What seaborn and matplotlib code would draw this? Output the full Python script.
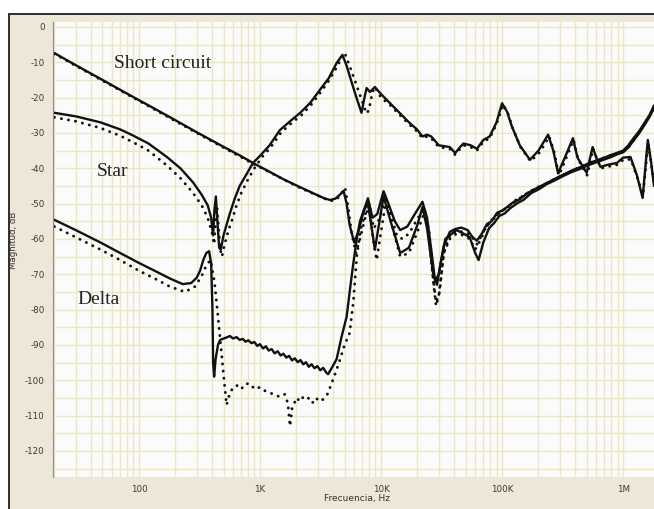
import numpy as np
import pandas as pd
import matplotlib
matplotlib.use("Agg")
import matplotlib.pyplot as plt
import seaborn as sns
from matplotlib.patches import Rectangle
from matplotlib.ticker import FixedLocator, LogLocator, MultipleLocator, NullFormatter

# ---------------------------------------------------------------- data
# Short circuit, solid trace
sc_f = [20, 30, 50, 80, 120, 200, 300, 468, 700, 875, 1200, 1600, 2100, 2800, 3400,
        3800, 4200, 4600, 4900, 5200, 5500, 6000, 6500, 7200, 7800, 8500, 9300, 10500,
        11500, 13000, 14400, 16500, 19000, 22000, 24000, 26000, 28000, 30000, 33000,
        37000, 41000, 46000, 52000, 57000, 62000, 68000, 75000, 82000, 91000, 100000,
        112000, 125000, 140000, 160000, 185000, 210000, 240000, 280000, 330000, 390000,
        450000, 520000, 600000, 700000, 800000, 900000, 1000000, 1100000, 1200000,
        1350000, 1500000, 1650000, 1800000]
sc_db = [-7.4, -10.8, -15.0, -18.9, -22.2, -26.4, -29.8, -33.4, -36.6, -38.5, -41.0,
         -43.3, -45.2, -47.2, -48.5, -49.0, -48.6, -47.4, -46.4, -50.0, -56.0, -61.0,
         -58.0, -52.0, -48.5, -54.0, -53.0, -46.5, -50.0, -55.0, -57.5, -56.5, -53.0,
         -49.5, -54.0, -63.0, -72.0, -70.0, -62.0, -58.0, -57.2, -56.8, -57.5, -59.5,
         -60.5, -58.5, -55.8, -55.0, -52.6, -52.0, -50.8, -49.5, -48.8, -47.2, -46.0,
         -45.0, -44.0, -42.8, -41.6, -40.4, -39.6, -38.6, -37.8, -37.0, -36.2, -35.6,
         -35.0, -33.6, -31.8, -29.6, -27.2, -25.0, -22.2]

# Short circuit, dotted trace
sc2_f = [20, 50, 120, 300, 875, 2100, 3800, 4300, 4700, 5050, 5350, 5700, 6200, 6700,
         7400, 8000, 8700, 9500, 10800, 12000, 13500, 15000, 17000, 19500, 22500,
         24500, 26500, 28500, 30500, 33000, 37000, 42000, 48000, 55000, 62000, 70000,
         80000, 91000, 105000, 120000, 140000, 165000, 195000, 234000, 280000, 340000,
         400000, 480000, 560000, 650000, 760000, 880000, 1000000, 1120000, 1250000,
         1400000, 1550000, 1700000, 1800000]
sc2_db = [-7.6, -15.2, -22.4, -30.0, -38.7, -45.4, -49.3, -48.8, -47.3, -45.5, -51.0,
          -58.0, -64.0, -60.0, -54.0, -50.0, -57.0, -55.0, -49.0, -53.0, -59.0, -60.0,
          -58.5, -55.0, -51.5, -57.0, -69.0, -78.0, -75.0, -64.0, -59.0, -57.8, -58.0,
          -58.8, -61.5, -58.0, -55.0, -53.2, -51.5, -50.3, -48.5, -46.8, -45.4, -44.3,
          -43.0, -41.5, -40.3, -39.2, -38.2, -37.4, -36.5, -35.8, -35.3, -33.8, -31.6,
          -29.2, -26.8, -24.4, -22.8]

# Star, solid trace
st_f = [20, 30, 48, 70, 89, 120, 170, 220, 280, 330, 370, 395, 410, 420, 432, 445, 460,
        475, 500, 540, 565, 620, 680, 780, 875, 1000, 1200, 1460, 1800, 2150, 2600,
        3130, 3700, 4300, 4800, 5200, 5700, 6200, 6900, 7300, 7600, 8100, 8900, 10000,
        11800, 14400, 17000, 19800, 22000, 24000, 26000, 30000, 37000, 41000, 45000,
        48000, 55000, 62000, 70000, 79000, 90000, 100000, 110000, 120000, 140000,
        170000, 200000, 240000, 265000, 290000, 330000, 385000, 420000, 500000,
        560000, 600000, 650000, 750000, 890000, 1000000, 1150000, 1300000, 1450000,
        1600000, 1700000, 1800000]
st_db = [-24.3, -25.3, -27.0, -29.0, -30.7, -33.0, -36.8, -40.0, -44.0, -47.5, -50.5,
         -54.0, -59.0, -52.0, -48.0, -55.0, -62.5, -63.0, -59.0, -55.0, -52.7, -48.5,
         -45.0, -41.5, -38.5, -36.5, -33.5, -29.2, -26.5, -24.3, -21.5, -17.8, -14.5,
         -10.2, -7.9, -11.0, -15.5, -19.5, -24.3, -20.0, -17.3, -18.4, -17.0, -19.0,
         -21.5, -24.5, -27.0, -29.0, -31.0, -30.5, -31.0, -33.5, -34.0, -35.7, -34.0,
         -33.0, -33.5, -34.5, -32.0, -31.0, -27.0, -21.6, -24.0, -28.0, -33.5, -37.6,
         -35.0, -30.5, -35.0, -41.4, -37.0, -31.5, -37.0, -41.3, -34.0, -37.0, -39.6,
         -39.0, -38.5, -37.0, -36.8, -42.0, -48.4, -32.0, -38.0, -45.0]

# Star, dotted trace
st2_f = [20, 30, 48, 70, 89, 120, 170, 220, 280, 330, 370, 400, 418, 430, 442, 455,
         470, 485, 510, 550, 590, 640, 700, 800, 900, 1030, 1230, 1500, 1850, 2200,
         2650, 3200, 3780, 4400, 5000, 5500, 6200, 6900, 7400, 7700, 8100, 8500, 8900,
         10000, 11800, 14400, 17000, 19800, 22000, 24000, 26000, 30000, 37000, 41000,
         45000, 48000, 55000, 62000, 70000, 79000, 90000, 102000, 112000, 122000,
         142000, 172000, 205000, 245000, 270000, 295000, 335000, 390000, 425000,
         505000, 565000, 610000, 660000, 760000, 900000, 1010000, 1160000, 1320000,
         1460000, 1610000, 1710000, 1800000]
st2_db = [-25.6, -26.7, -28.6, -30.8, -32.6, -35.0, -39.2, -42.8, -47.0, -50.5, -54.0,
          -58.0, -61.5, -55.0, -51.0, -57.0, -63.0, -65.0, -61.5, -57.5, -54.5, -50.5,
          -47.0, -43.0, -40.0, -37.0, -34.0, -29.8, -27.0, -25.0, -22.0, -18.3, -14.8,
          -10.8, -7.3, -11.0, -16.0, -20.5, -23.5, -24.5, -22.0, -18.5, -17.0, -20.0,
          -22.0, -25.0, -27.5, -29.5, -31.5, -31.0, -31.5, -34.0, -34.5, -36.2, -34.5,
          -33.5, -34.0, -35.0, -32.5, -31.5, -27.5, -22.0, -24.5, -28.5, -34.0, -38.0,
          -35.5, -31.0, -35.5, -42.0, -37.5, -32.0, -37.5, -42.0, -34.5, -37.5, -40.0,
          -39.5, -39.0, -37.5, -37.5, -43.0, -47.5, -33.0, -39.0, -44.0]

# Delta, solid trace
dl_f = [20, 30, 48, 70, 100, 140, 180, 230, 270, 300, 320, 340, 360, 380, 395, 405,
        410, 418, 430, 450, 468, 520, 565, 600, 640, 680, 720, 760, 800, 850, 900, 950,
        1000, 1060, 1120, 1180, 1250, 1320, 1400, 1480, 1560, 1650, 1740, 1840, 1940,
        2050, 2160, 2280, 2400, 2530, 2670, 2820, 2980, 3150, 3330, 3520, 3650, 4000,
        4300, 4700, 5200, 5600, 5900, 6300, 6700, 7200, 7800, 8300, 8900, 9500, 10500,
        12000, 14400, 17000, 20000, 22000, 24000, 27000, 29000, 31000, 34000, 37000,
        42000, 48000, 54000, 60000, 64000, 70000, 78000, 86000, 95000, 105000, 118000,
        135000, 150000, 175000, 200000, 234000, 270000, 320000, 380000, 440000, 510000,
        590000, 690000, 800000, 900000, 1000000, 1100000, 1200000, 1350000, 1500000,
        1650000, 1800000]
dl_db = [-54.6, -57.5, -61.0, -64.0, -66.8, -69.3, -71.2, -72.8, -72.5, -71.0, -69.0,
         -66.0, -64.0, -63.5, -67.0, -80.0, -95.0, -99.0, -94.0, -90.0, -88.6, -88.0,
         -87.5, -88.2, -87.8, -88.6, -88.3, -89.1, -88.7, -89.5, -89.2, -90.3, -89.8,
         -91.0, -90.4, -91.6, -91.2, -92.4, -91.8, -93.0, -92.5, -93.6, -93.1, -94.4,
         -93.8, -94.9, -94.3, -95.5, -94.9, -96.2, -95.5, -96.6, -96.0, -97.2, -96.5,
         -97.8, -98.3, -96.0, -94.0, -88.0, -82.0, -73.0, -67.0, -60.0, -55.0, -52.0,
         -50.0, -56.0, -63.0, -57.0, -48.0, -55.0, -64.0, -62.5, -56.0, -51.0, -57.0,
         -70.0, -73.0, -67.0, -60.0, -59.0, -57.5, -58.5, -59.5, -64.0, -66.0, -61.0,
         -57.0, -55.5, -53.5, -52.8, -51.2, -49.8, -49.0, -47.0, -46.0, -44.5, -43.5,
         -42.2, -41.0, -40.2, -39.2, -38.4, -37.6, -36.8, -36.0, -35.5, -34.2, -32.5,
         -30.2, -27.8, -25.5, -23.0]

# Delta, dotted trace
dl2_f = [20, 30, 48, 70, 100, 140, 180, 240, 290, 330, 360, 390, 420, 450, 480, 505,
         530, 560, 600, 650, 700, 760, 830, 900, 1000, 1100, 1200, 1330, 1460, 1600,
         1700, 1770, 1840, 1900, 2000, 2150, 2300, 2500, 2700, 2900, 3100, 3300, 3600,
         3900, 4300, 4600, 5000, 5500, 5900, 6300, 6800, 7400, 8000, 8600, 9200, 10000,
         11000, 12500, 14400, 17000, 20000, 23000, 25000, 27000, 28500, 30000, 33000,
         37000, 42000, 48000, 54000, 60000, 66000, 74000, 82000, 92000, 102000, 115000,
         130000, 150000, 172000, 200000, 234000, 275000, 325000, 385000, 450000,
         520000, 600000, 700000, 800000, 900000, 1000000, 1100000, 1200000, 1350000,
         1500000, 1650000, 1800000]
dl2_db = [-56.5, -59.5, -63.0, -66.0, -69.0, -71.5, -73.5, -75.0, -73.5, -70.5, -67.5,
          -66.0, -72.0, -82.0, -92.0, -100.0, -107.0, -104.0, -102.0, -101.5, -102.5,
          -101.0, -101.0, -102.5, -102.0, -103.0, -103.5, -104.2, -104.7, -104.0,
          -106.5, -113.0, -108.0, -107.0, -105.0, -106.0, -104.5, -105.0, -106.5,
          -105.0, -106.0, -105.5, -104.0, -101.0, -97.0, -94.0, -90.0, -86.7, -78.0,
          -65.0, -57.0, -53.0, -51.0, -60.0, -66.0, -58.0, -49.0, -57.0, -65.0, -64.0,
          -58.0, -52.0, -58.0, -72.0, -79.0, -76.0, -64.0, -60.0, -58.5, -59.0, -60.0,
          -63.0, -60.5, -56.5, -55.0, -53.0, -52.0, -50.5, -49.0, -47.8, -46.5, -45.5,
          -44.2, -43.0, -41.8, -40.8, -39.8, -38.8, -38.0, -37.2, -36.4, -35.8, -35.2,
          -33.8, -32.0, -29.8, -27.4, -25.2, -22.6]

curve_labels = ["Short circuit", "Star", "Delta"]
y_ticks = list(range(0, -130, -10))
x_ticks = [100, 1000, 10000, 100000, 1000000]
x_tick_labels = ["100", "1K", "10K", "100K", "1M"]

# ---------------------------------------------------------------- figure
sns.set_theme(style="white")
plt.rcParams['font.family'] = ['DejaVu Sans']

W, H = 654, 509
fig = plt.figure(figsize=(W / 100, H / 100), dpi=100)
fig.patch.set_facecolor("white")

# panel frame behind the plotting area
fig.add_artist(Rectangle((9 / W, -0.02), 1.0, 1 - 14 / H + 0.02,
                         transform=fig.transFigure, facecolor="#ede7d7",
                         edgecolor="#1e1e1e", linewidth=1.3, zorder=0))

left, top, bottom = 53, 22, 477
ax = fig.add_axes([left / W, 1 - bottom / H, 1 - left / W, (bottom - top) / H])
ax.set_facecolor("#fbfbfc")
ax.set_xscale("log")
ax.set_xlim(19.5, 1.80e6)
ax.set_ylim(-127.4, 1.4)

grid_c = "#ebe7c2"
ax.xaxis.set_major_locator(FixedLocator(x_ticks))
ax.xaxis.set_minor_locator(LogLocator(base=10, subs=np.arange(2, 10)))
ax.xaxis.set_minor_formatter(NullFormatter())
ax.yaxis.set_major_locator(FixedLocator(y_ticks))
ax.yaxis.set_minor_locator(MultipleLocator(5))
ax.grid(which="both", color=grid_c, linewidth=1.0, zorder=0)
ax.set_axisbelow(True)

ax.set_xticklabels(x_tick_labels, fontsize=6.3, color="#3a3a3a")
ax.set_yticklabels([str(v) for v in y_ticks], fontsize=6.3, color="#3a3a3a")
ax.tick_params(axis="x", which="major", direction="out", length=3, width=0.8,
               color="#d0605a", pad=3)
ax.tick_params(axis="y", which="major", direction="out", length=4, width=0.8,
               color="#555555", pad=2)
ax.tick_params(which="minor", length=0)

for s in ["top", "right", "bottom"]:
    ax.spines[s].set_visible(False)
ax.spines["left"].set_color("#8a8a8a")
ax.spines["left"].set_linewidth(0.8)

solid_kw = dict(color="#111111", linewidth=1.7, estimator=None, sort=False,
                legend=False, ax=ax)
dot_kw = dict(color="#111111", linewidth=2.1, linestyle=(0, (0.05, 2.4)),
              dash_capstyle="round", estimator=None, sort=False, legend=False, ax=ax)

traces = [
    (sc_f, sc_db, solid_kw), (sc2_f, sc2_db, dot_kw),
    (st_f, st_db, solid_kw), (st2_f, st2_db, dot_kw),
    (dl_f, dl_db, solid_kw), (dl2_f, dl2_db, dot_kw),
]
for f, db, kw in traces:
    df = pd.DataFrame({"Frecuencia": f, "Magnitud": db})
    sns.lineplot(data=df, x="Frecuencia", y="Magnitud", **kw)

ax.set_xlabel("")
ax.set_ylabel("")

serif = ["Liberation Serif", "DejaVu Serif"]
ax.text(62, -11.6, curve_labels[0], family=serif, fontsize=14, color="#222222",
        ha="left", va="baseline")
ax.text(45, -42.2, curve_labels[1], family=serif, fontsize=14, color="#222222",
        ha="left", va="baseline")
ax.text(30.8, -78.4, curve_labels[2], family=serif, fontsize=14, color="#222222",
        ha="left", va="baseline")

fig.text(357 / W, 1 - 499 / H, "Frecuencia, Hz", fontsize=6.5, color="#333333",
         ha="center", va="center")
fig.text(14 / W, 1 - 240 / H, "Magnitud, dB", fontsize=6.2, color="#333333",
         ha="center", va="center", rotation=90)

fig.savefig("out.png", dpi=100)
